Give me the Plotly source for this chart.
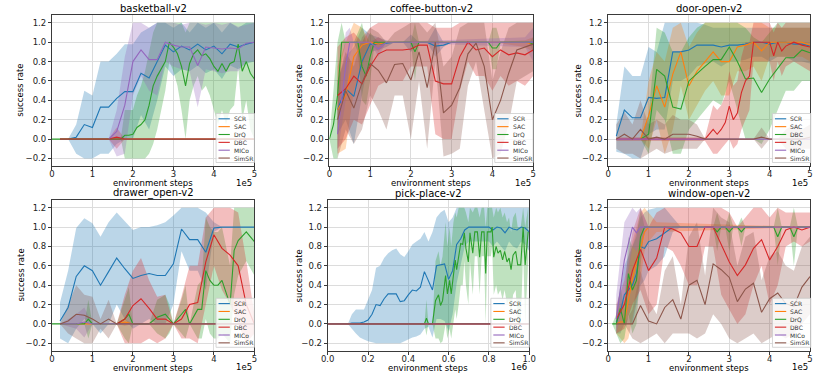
import plotly.graph_objects as go

# ---------------- data (x in units of the axis multiplier) ----------------
# basketball-v2 (x in 1e5 steps)
BB_SCR_X = [0.4,0.6,0.8,1.0,1.2,1.4,1.6,1.8,2.0,2.2,2.4,2.6,2.8,3.0,3.2,3.4,3.6,3.8,4.0,4.2,4.4,4.6,4.8,5.0]
BB_SCR_M = [0.0,0.02,0.15,0.12,0.33,0.33,0.42,0.49,0.49,0.68,0.63,0.80,0.97,0.90,0.96,0.92,0.98,0.92,0.96,0.88,0.98,0.95,0.98,1.0]
BB_SCR_LO = [0.0,-0.15,-0.2,-0.2,-0.15,-0.15,-0.05,0.0,0.0,0.25,0.1,0.4,0.75,0.65,0.72,0.7,0.76,0.68,0.72,0.62,0.76,0.72,0.78,0.8]
BB_SCR_HI = [0.0,0.15,0.5,0.45,0.8,0.8,0.88,0.98,0.98,1.1,1.15,1.2,1.2,1.15,1.2,1.1,1.2,1.15,1.2,1.1,1.2,1.15,1.2,1.2]
BB_SAC_X = [0.2,5.0]
BB_SAC_M = [0.0,0.0]
BB_DRQ_X = [0.0,0.2,1.7,1.8,1.9,2.0,2.1,2.2,2.3,2.4,2.5,2.6,2.7,2.8,2.9,3.0,3.1,3.2,3.3,3.4,3.5,3.6,3.7,3.8,3.9,4.0,4.1,4.2,4.3,4.4,4.5,4.6,4.7,4.8,4.9,5.0]
BB_DRQ_M = [0.0,0.0,0.0,0.04,0.04,0.05,0.12,0.15,0.2,0.35,0.55,0.65,0.72,0.8,1.0,0.95,0.88,0.75,0.55,0.78,0.88,0.92,0.86,0.88,0.83,0.75,0.7,0.78,0.7,0.78,0.8,0.98,0.7,0.8,0.68,0.62]
BB_DRQ_LO = [0.0,0.0,0.0,-0.2,-0.2,-0.2,-0.2,-0.2,-0.2,-0.15,-0.05,0.1,0.3,0.5,0.8,0.7,0.55,0.3,0.0,0.4,0.55,0.65,0.5,0.55,0.45,0.3,0.15,0.3,0.15,0.3,0.35,0.75,0.2,0.4,0.1,0.0]
BB_DRQ_HI = [0.0,0.0,0.0,0.3,0.3,0.3,0.45,0.55,0.7,0.9,1.1,1.2,1.2,1.2,1.2,1.2,1.2,1.2,1.1,1.2,1.2,1.2,1.2,1.2,1.2,1.2,1.2,1.2,1.2,1.2,1.2,1.2,1.2,1.2,1.2,1.2]
BB_DBC_X = [0.2,1.4,1.6,1.8,5.0]
BB_DBC_M = [0.0,0.0,0.02,0.0,0.0]
BB_DBC_LO = [0.0,0.0,-0.1,0.0,0.0]
BB_DBC_HI = [0.0,0.0,0.12,0.0,0.0]
BB_MICO_X = [1.4,1.6,1.8,2.0,2.2,2.4,2.6,2.8,3.0,3.2,3.4,3.6,3.8,4.0,4.2,4.4,4.6,4.8,5.0]
BB_MICO_M = [0.0,0.08,0.35,0.8,0.92,0.82,0.82,1.0,0.97,0.95,0.95,0.76,0.95,0.94,0.93,0.94,0.93,0.99,1.0]
BB_MICO_LO = [0.0,-0.18,-0.15,0.45,0.65,0.5,0.45,0.8,0.75,0.72,0.7,0.33,0.72,0.7,0.68,0.7,0.7,0.8,0.8]
BB_MICO_HI = [0.0,0.3,0.85,1.2,1.2,1.15,1.2,1.2,1.2,1.18,1.2,1.2,1.18,1.2,1.18,1.2,1.16,1.18,1.2]
BB_SIMSR_X = [0.2,5.0]
BB_SIMSR_M = [0.0,0.0]

# coffee-button-v2
CB_SCR_X = [0.2,0.4,0.6,0.8,1.0,1.2,1.4,1.6,1.8,2.0,2.2,2.4,2.6,2.8,3.0,5.0]
CB_SCR_M = [0.3,0.52,0.44,0.8,0.98,0.98,0.99,1.0,1.0,1.0,1.0,1.0,0.96,0.97,1.0,1.0]
CB_SCR_LO = [0.05,0.2,-0.05,0.45,0.9,0.92,0.95,1.0,1.0,0.9,1.0,1.0,0.85,0.95,1.0,1.0]
CB_SCR_HI = [0.6,0.85,0.95,1.15,1.08,1.05,1.02,1.0,1.0,1.08,1.0,1.0,1.15,1.0,1.0,1.0]
CB_SAC_X = [0.2,0.4,0.6,0.8,1.0,1.2,1.4,1.6,4.0,4.8,5.0]
CB_SAC_M = [0.3,0.45,0.85,0.97,1.0,0.98,1.0,1.0,1.0,1.0,0.98]
CB_SAC_LO = [-0.15,-0.1,0.5,0.75,1.0,0.9,1.0,1.0,1.0,0.95,0.9]
CB_SAC_HI = [0.75,1.0,1.2,1.15,1.0,1.05,1.0,1.0,1.0,1.02,1.05]
CB_DRQ_X = [0.0,0.1,0.2,0.3,0.4,0.6,0.7,0.8,0.9,1.0,1.1,1.2,2.0,2.1,2.2,3.9,4.0,4.1,4.2,4.9,5.0]
CB_DRQ_M = [0.0,0.15,0.45,1.0,1.0,1.0,1.0,0.75,0.65,0.85,1.0,1.0,1.0,0.9,1.0,1.0,0.94,0.94,1.0,1.0,0.98]
CB_DRQ_LO = [0.0,-0.2,-0.2,0.8,1.0,1.0,0.9,0.4,0.35,0.6,0.95,1.0,1.0,0.6,1.0,1.0,0.72,0.72,1.0,1.0,0.9]
CB_DRQ_HI = [0.0,0.5,1.0,1.2,1.0,1.0,1.1,1.2,1.0,1.1,1.05,1.0,1.0,1.2,1.0,1.0,1.15,1.15,1.0,1.0,1.05]
CB_DBC_X = [0.2,0.4,0.6,0.8,1.0,1.2,1.4,1.6,1.8,2.0,2.2,2.4,2.6,2.8,3.0,3.2,3.4,3.6,3.8,4.0,4.2,4.4,4.6,4.8,5.0]
CB_DBC_M = [0.45,0.52,0.65,0.57,0.75,0.88,0.92,0.92,0.92,0.93,0.97,0.97,0.6,0.57,0.57,0.85,1.0,0.92,0.94,0.85,0.92,0.87,0.89,0.87,0.92]
CB_DBC_LO = [-0.1,0.0,0.2,0.15,0.35,0.55,0.6,0.6,0.6,0.75,0.75,0.75,0.05,0.0,0.0,0.5,0.8,0.65,0.65,0.5,0.65,0.55,0.6,0.55,0.65]
CB_DBC_HI = [0.95,1.05,1.1,1.0,1.15,1.2,1.2,1.2,1.2,1.2,1.2,1.2,1.15,1.15,1.15,1.2,1.2,1.2,1.2,1.2,1.2,1.2,1.2,1.2,1.2]
CB_MICO_X = [0.2,0.4,0.5,0.6,1.0,1.2,1.4,4.8,5.0]
CB_MICO_M = [0.05,0.75,1.0,1.0,1.0,0.93,1.0,1.0,1.0]
CB_MICO_LO = [-0.15,0.4,0.85,1.0,1.0,0.85,1.0,0.95,0.8]
CB_MICO_HI = [0.3,1.1,1.15,1.0,1.0,1.05,1.0,1.05,1.15]
CB_SIMSR_X = [0.2,0.4,0.6,0.8,1.0,1.2,1.4,1.6,1.8,2.0,2.2,2.4,2.6,2.8,3.0,3.2,3.4,3.6,3.8,4.0,4.2,4.4,4.6,4.8,5.0]
CB_SIMSR_M = [0.2,0.5,0.32,0.58,0.78,0.71,0.58,0.77,0.78,0.61,0.9,0.53,1.0,0.27,0.35,0.53,0.88,0.99,0.75,0.2,0.4,0.68,0.92,0.95,0.98]
CB_SIMSR_LO = [-0.2,0.1,-0.05,0.1,0.45,0.3,0.1,0.45,0.45,0.0,0.6,-0.1,0.8,-0.18,-0.15,-0.1,0.55,0.8,0.3,-0.2,-0.15,0.15,0.6,0.65,0.7]
CB_SIMSR_HI = [0.6,0.9,0.75,1.05,1.15,1.1,1.0,1.1,1.15,1.2,1.2,1.1,1.2,0.75,0.85,1.15,1.2,1.2,1.2,0.6,0.9,1.15,1.2,1.2,1.2]

# door-open-v2
DO_SCR_X = [0.2,0.4,0.6,0.8,1.0,1.2,1.4,1.6,1.8,2.0,2.2,2.4,2.6,2.8,3.0,3.2,3.4,3.6,3.8,4.0,4.2,4.4,4.6,4.8,5.0]
DO_SCR_M = [0.03,0.3,0.22,0.22,0.43,0.42,0.43,0.9,0.9,0.92,0.97,0.97,0.97,0.95,0.97,0.97,0.98,1.0,1.0,0.98,1.0,1.0,0.98,0.98,0.96]
DO_SCR_LO = [-0.13,-0.15,-0.2,-0.2,0.05,0.1,0.1,0.6,0.6,0.65,0.75,0.78,0.8,0.75,0.8,0.8,0.82,0.85,0.85,0.8,0.85,0.85,0.8,0.8,0.78]
DO_SCR_HI = [0.15,0.75,0.65,0.65,0.95,0.9,1.2,1.2,1.2,1.2,1.2,1.18,1.15,1.15,1.15,1.15,1.15,1.15,1.15,1.15,1.15,1.15,1.15,1.15,1.15]
DO_SAC_X = [0.8,1.0,1.2,1.4,1.6,1.8,2.0,2.2,2.4,2.6,2.8,3.0,3.2,3.4,3.6,3.8,4.0,4.2,4.4,4.6,4.8,5.0]
DO_SAC_M = [0.0,0.24,0.55,0.33,0.67,0.9,0.55,0.7,0.8,0.9,0.8,0.8,0.95,0.97,1.0,0.91,1.0,1.0,1.0,1.0,1.0,0.97]
DO_SAC_LO = [0.0,-0.1,0.2,-0.15,0.1,0.55,0.2,0.35,0.5,0.6,0.45,0.45,0.7,0.7,0.75,0.6,0.85,0.85,0.85,0.85,0.85,0.8]
DO_SAC_HI = [0.0,0.6,0.9,0.8,1.15,1.2,0.95,1.1,1.2,1.2,1.2,1.2,1.2,1.2,1.2,1.2,1.15,1.15,1.15,1.15,1.15,1.15]
DO_DBC_X = [0.8,1.0,1.2,1.4,1.6,1.8,2.0,2.2,2.4,2.6,2.8,3.0,3.2,3.4,3.6,3.8,4.0,4.2,4.4,4.6,4.8,5.0]
DO_DBC_M = [0.0,0.05,0.72,0.65,0.33,0.31,0.6,0.68,0.75,0.82,0.82,0.95,0.8,0.62,0.63,0.48,0.62,0.73,0.84,0.84,0.92,0.89]
DO_DBC_LO = [0.0,-0.15,0.3,0.2,-0.15,-0.15,0.1,0.2,0.3,0.4,0.35,0.6,0.3,0.0,0.0,-0.05,0.1,0.3,0.5,0.5,0.6,0.6]
DO_DBC_HI = [0.0,0.25,1.15,1.1,0.9,0.9,1.05,1.15,1.2,1.2,1.2,1.2,1.2,1.15,1.05,1.0,1.1,1.2,1.2,1.2,1.2,1.2]
DO_DRQ_X = [0.2,0.4,0.6,0.8,1.0,1.2,1.4,1.6,1.8,2.0,2.2,2.4,2.6,2.7,2.8,2.9,3.0,3.1,3.2,3.3,3.4,3.5,3.6,3.8,4.0,4.1,4.2,4.3,4.4,4.6,4.8,5.0]
DO_DRQ_M = [0.0,0.0,0.0,0.0,0.0,0.0,0.0,0.0,0.0,0.0,0.0,0.0,0.1,0.05,0.1,0.17,0.34,0.2,0.27,0.48,0.6,0.65,1.0,1.0,1.0,0.86,1.0,0.91,0.96,1.0,0.97,0.95]
DO_DRQ_LO = [-0.02,-0.02,-0.02,-0.02,-0.02,-0.02,-0.02,-0.02,-0.02,-0.02,-0.02,-0.02,-0.15,-0.15,-0.1,-0.05,0.0,-0.1,-0.05,0.1,0.2,0.3,0.8,0.8,0.8,0.6,0.8,0.65,0.75,0.8,0.75,0.7]
DO_DRQ_HI = [0.02,0.02,0.02,0.02,0.02,0.02,0.02,0.02,0.02,0.02,0.02,0.02,0.35,0.3,0.35,0.45,0.7,0.55,0.6,0.85,1.0,1.0,1.2,1.2,1.2,1.1,1.2,1.15,1.2,1.2,1.2,1.2]
DO_MICO_X = [0.2,5.0]
DO_MICO_M = [0.0,0.0]
DO_SIMSR_X = [0.2,0.4,0.6,0.8,1.0,1.2,1.4,1.6,1.8,2.0,2.2,2.4,2.6,2.8,3.0,3.2,3.4,3.6,3.8,4.0,4.2,4.4,4.6,4.8,5.0]
DO_SIMSR_M = [0.0,0.05,0.0,0.1,0.0,0.02,0.0,0.05,0.05,0.05,0.03,0.0,0.0,0.0,0.0,0.0,0.0,0.0,0.02,0.0,0.0,0.0,0.0,0.0,0.02]
DO_SIMSR_LO = [-0.1,-0.15,-0.15,-0.2,-0.15,-0.1,-0.15,-0.12,-0.1,-0.1,-0.1,0.0,0.0,0.0,0.0,0.0,0.0,0.0,-0.1,0.0,0.0,-0.1,-0.15,-0.1,-0.1]
DO_SIMSR_HI = [0.15,0.28,0.15,0.4,0.15,0.2,0.15,0.25,0.2,0.2,0.15,0.0,0.0,0.0,0.0,0.0,0.0,0.0,0.12,0.0,0.0,0.1,0.15,0.1,0.15]

# drawer_open-v2
DR_SCR_X = [0.2,0.4,0.6,0.8,1.0,1.2,1.4,1.6,1.8,2.0,2.2,2.4,2.6,2.8,3.0,3.2,3.4,3.6,3.8,4.0,4.2,4.4,4.6,4.8,5.0]
DR_SCR_M = [0.03,0.17,0.49,0.6,0.55,0.4,0.54,0.68,0.57,0.47,0.5,0.52,0.5,0.5,0.62,0.98,0.87,0.87,0.74,0.99,1.0,1.0,1.0,1.0,1.0]
DR_SCR_LO = [-0.15,-0.2,-0.05,0.05,0.0,-0.1,0.0,0.2,0.05,-0.05,0.0,0.05,0.0,0.0,0.2,0.75,0.55,0.55,0.35,0.95,1.0,1.0,1.0,1.0,1.0]
DR_SCR_HI = [0.22,0.55,0.99,1.09,1.04,0.9,1.05,1.15,1.06,0.97,1.0,1.0,1.02,1.05,1.12,1.2,1.2,1.2,1.15,1.05,1.0,1.0,1.0,1.0,1.0]
DR_SAC_X = [0.2,1.6,1.8,2.0,5.0]
DR_SAC_M = [0.0,0.0,0.02,0.0,0.0]
DR_SAC_LO = [0.0,0.0,-0.02,0.0,0.0]
DR_SAC_HI = [0.0,0.0,0.05,0.0,0.0]
DR_DRQ_X = [0.0,0.2,0.8,0.9,1.0,1.6,1.8,1.9,2.0,2.4,2.6,2.8,2.9,3.0,3.2,3.3,3.4,3.6,3.7,3.8,3.9,4.0,4.1,4.2,4.4,4.5,4.6,4.8,5.0]
DR_DRQ_M = [0.0,0.0,0.0,0.05,0.0,0.0,0.05,0.1,0.0,0.0,0.07,0.1,0.05,0.0,0.1,0.15,0.0,0.15,0.15,0.55,0.45,0.4,0.4,0.45,0.2,0.76,0.86,0.95,0.85]
DR_DRQ_LO = [0.0,0.0,0.0,-0.15,0.0,0.0,-0.15,-0.2,0.0,0.0,-0.1,-0.15,-0.1,0.0,-0.1,-0.15,0.0,-0.15,-0.15,0.05,-0.1,-0.15,-0.15,-0.1,-0.2,0.3,0.5,0.65,0.5]
DR_DRQ_HI = [0.0,0.0,0.0,0.25,0.0,0.0,0.25,0.38,0.0,0.0,0.25,0.3,0.2,0.0,0.25,0.4,0.0,0.4,0.45,1.1,1.0,0.95,0.95,1.0,0.6,1.2,1.2,1.2,1.2]
DR_DBC_X = [1.6,1.8,2.0,2.2,2.4,2.6,2.8,3.0,3.2,3.4,3.6,3.8,4.0,4.2,4.4,4.6,4.8,5.0]
DR_DBC_M = [0.0,0.05,0.19,0.26,0.16,0.05,0.05,0.0,0.05,0.2,0.22,0.64,0.92,0.78,0.71,0.6,0.2,0.0]
DR_DBC_LO = [0.0,-0.2,-0.2,-0.2,-0.15,-0.2,-0.15,0.0,-0.15,-0.15,-0.2,0.2,0.6,0.35,0.2,0.0,-0.2,-0.1]
DR_DBC_HI = [0.0,0.3,0.55,0.68,0.45,0.28,0.3,0.0,0.28,0.6,0.6,1.1,1.2,1.2,1.2,1.15,0.65,0.1]
DR_MICO_X = [0.2,0.6,0.8,1.0,5.0]
DR_MICO_M = [0.0,0.0,0.02,0.0,0.0]
DR_MICO_LO = [0.0,-0.05,-0.14,0.0,0.0]
DR_MICO_HI = [0.0,0.1,0.17,0.0,0.0]
DR_SIMSR_X = [0.2,0.4,0.6,0.8,1.0,1.2,1.4,1.6,5.0]
DR_SIMSR_M = [0.0,0.03,0.1,0.09,0.05,0.0,0.05,0.0,0.0]
DR_SIMSR_LO = [0.0,-0.1,-0.15,-0.2,-0.2,-0.05,-0.15,0.0,0.0]
DR_SIMSR_HI = [0.0,0.2,0.4,0.3,0.28,0.05,0.25,0.0,0.0]

# pick-place-v2 (x in 1e6 steps)
PP_SCR_X = [0.10,0.12,0.14,0.16,0.18,0.20,0.22,0.24,0.26,0.28,0.30,0.32,0.34,0.36,0.38,0.40,0.42,0.44,0.46,0.48,0.50,0.52,0.54,0.56,0.58,0.60,0.62,0.64,0.66,0.68,0.70,0.72,0.74,0.76,0.78,0.80,0.82,0.84,0.86,0.88,0.90,0.92,0.94,0.96,0.98,1.00]
PP_SCR_M = [0.0,0.01,0.01,0.01,0.02,0.04,0.1,0.2,0.19,0.26,0.31,0.31,0.31,0.23,0.24,0.3,0.35,0.34,0.38,0.54,0.44,0.35,0.6,0.61,0.62,0.46,0.55,0.82,0.88,0.97,1.0,1.0,1.0,1.0,1.0,1.0,0.97,1.0,0.99,0.94,1.0,0.98,0.97,1.0,0.99,0.95]
PP_SCR_LO = [0.0,-0.05,-0.1,-0.14,-0.16,-0.18,-0.19,-0.2,-0.2,-0.2,-0.2,-0.2,-0.2,-0.2,-0.18,-0.16,-0.14,-0.13,-0.11,-0.05,-0.03,-0.14,0.05,0.05,0.03,-0.07,0.1,0.42,0.6,0.8,0.85,0.85,0.85,0.85,0.85,0.85,0.8,0.85,0.8,0.75,0.85,0.8,0.78,0.85,0.82,0.75]
PP_SCR_HI = [0.0,0.1,0.15,0.15,0.15,0.25,0.35,0.58,0.6,0.68,0.73,0.76,0.78,0.72,0.69,0.75,0.82,0.85,0.88,0.95,0.85,0.95,1.1,1.15,1.18,1.05,1.1,1.2,1.2,1.2,1.2,1.2,1.2,1.2,1.2,1.2,1.2,1.2,1.2,1.2,1.2,1.2,1.2,1.2,1.2,1.2]
PP_DRQ_X = [0.0,0.48,0.49,0.5,0.52,0.535,0.55,0.56,0.57,0.578,0.585,0.594,0.605,0.613,0.624,0.633,0.64,0.65,0.66,0.67,0.678,0.686,0.698,0.706,0.72,0.73,0.743,0.754,0.764,0.776,0.784,0.792,0.81,0.816,0.824,0.836,0.845,0.857,0.868,0.878,0.89,0.9,0.91,0.92,0.933,0.943,0.958,0.97,0.98,0.995]
PP_DRQ_M = [0.0,0.0,0.06,0.0,0.0,0.24,0.3,0.19,0.24,0.38,0.5,0.31,0.45,0.31,0.5,0.66,0.56,0.71,0.83,0.82,0.94,0.78,0.64,0.94,0.73,0.95,0.95,0.69,0.95,0.95,0.52,0.95,0.95,1.0,0.69,0.8,0.73,0.76,0.66,0.75,0.64,0.68,0.56,0.71,0.75,0.61,0.61,1.0,0.61,0.95]
PP_DRQ_LO = [0.0,0.0,-0.12,0.0,0.0,-0.15,-0.15,-0.2,-0.18,-0.1,0.0,-0.15,-0.05,-0.15,0.0,0.15,0.05,0.2,0.4,0.4,0.65,0.4,0.2,0.65,0.3,0.7,0.7,0.3,0.7,0.7,0.0,0.7,0.7,0.8,0.3,0.4,0.3,0.35,0.25,0.35,0.2,0.25,0.1,0.3,0.35,0.0,0.0,0.75,0.0,0.65]
PP_DRQ_HI = [0.0,0.0,0.25,0.0,0.0,0.65,0.75,0.6,0.7,0.9,1.05,0.8,1.0,0.8,1.05,1.15,1.1,1.2,1.2,1.2,1.2,1.15,1.05,1.2,1.15,1.2,1.2,1.1,1.2,1.2,1.0,1.2,1.2,1.2,1.1,1.2,1.15,1.2,1.1,1.15,1.05,1.1,0.95,1.1,1.15,1.0,1.0,1.2,1.0,1.2]
PP_ZERO_X = [0.0,1.0]
PP_ZERO_M = [0.0,0.0]

# window-open-v2
WO_SCR_X = [0.2,0.3,0.4,0.5,0.6,0.7,0.8,0.9,1.0,1.2,1.4,1.6,1.8,5.0]
WO_SCR_M = [0.02,0.12,0.3,0.35,0.4,0.52,0.8,0.78,0.85,0.88,0.94,1.0,1.0,1.0]
WO_SCR_LO = [-0.1,-0.1,0.0,0.0,0.0,0.2,0.4,0.45,0.55,0.6,0.7,0.95,1.0,1.0]
WO_SCR_HI = [0.15,0.35,0.6,0.7,0.8,0.95,1.1,1.15,1.18,1.2,1.2,1.1,1.0,1.0]
WO_SAC_X = [0.2,0.3,0.4,0.5,0.6,0.7,0.8,0.9,1.0,1.2,5.0]
WO_SAC_M = [0.0,0.02,0.02,0.24,0.47,0.64,0.78,0.95,1.0,1.0,1.0]
WO_SAC_LO = [-0.1,-0.15,-0.2,-0.15,0.05,0.25,0.45,0.75,0.85,0.95,1.0]
WO_SAC_HI = [0.1,0.2,0.25,0.6,0.85,1.0,1.15,1.2,1.15,1.05,1.0]
WO_DRQ_X = [0.1,0.2,0.3,0.4,0.5,0.6,0.7,0.8,0.9,1.0,2.6,2.7,2.8,2.9,3.0,3.1,3.2,3.3,3.4,4.1,4.2,4.3,4.5,4.6,4.7,5.0]
WO_DRQ_M = [0.0,0.0,0.16,0.0,0.52,0.35,0.45,0.9,1.0,1.0,1.0,0.95,1.0,1.0,0.95,1.0,1.0,0.95,1.0,1.0,0.9,1.0,1.0,0.9,1.0,1.0]
WO_DRQ_LO = [0.0,-0.1,-0.2,-0.15,0.1,-0.1,0.0,0.6,1.0,1.0,1.0,0.75,1.0,1.0,0.75,1.0,1.0,0.8,1.0,1.0,0.6,1.0,1.0,0.6,1.0,1.0]
WO_DRQ_HI = [0.0,0.1,0.4,0.15,0.9,0.8,0.9,1.2,1.0,1.0,1.0,1.15,1.0,1.0,1.15,1.0,1.0,1.1,1.0,1.0,1.2,1.0,1.0,1.2,1.0,1.0]
WO_DBC_X = [0.2,0.4,0.6,0.8,1.0,1.2,1.4,1.6,1.8,2.0,2.2,2.4,2.6,2.8,3.0,3.2,3.4,3.6,3.8,4.0,4.2,4.4,4.6,4.8,5.0]
WO_DBC_M = [0.05,0.2,0.55,0.77,0.55,0.68,1.0,0.98,0.94,0.8,0.8,1.0,1.0,0.82,0.64,0.5,0.61,0.78,0.87,0.66,0.8,0.97,1.0,0.97,1.0]
WO_DBC_LO = [-0.1,-0.05,0.2,0.35,0.1,0.2,0.8,0.75,0.6,0.4,0.4,0.8,0.8,0.3,0.15,0.0,0.1,0.4,0.6,0.2,0.4,0.8,0.85,0.8,0.85]
WO_DBC_HI = [0.2,0.45,0.95,1.2,1.0,1.15,1.2,1.2,1.2,1.2,1.2,1.2,1.2,1.2,1.15,1.0,1.1,1.2,1.2,1.1,1.2,1.15,1.15,1.15,1.15]
WO_MICO_X = [0.2,0.4,0.6,0.7,0.8,1.0,5.0]
WO_MICO_M = [0.05,0.66,1.0,0.94,1.0,1.0,1.0]
WO_MICO_LO = [-0.1,0.25,0.8,0.75,0.85,1.0,1.0]
WO_MICO_HI = [0.3,1.05,1.2,1.15,1.2,1.0,1.0]
WO_SIMSR_X = [0.2,0.4,0.6,0.8,1.0,1.2,1.4,1.6,1.8,2.0,2.2,2.4,2.6,2.8,3.0,3.2,3.4,3.6,3.8,4.0,4.2,4.4,4.6,4.8,5.0]
WO_SIMSR_M = [0.0,0.0,0.0,0.19,0.03,0.0,0.17,0.25,0.05,0.4,0.45,0.2,0.62,0.56,0.48,0.23,0.36,0.42,0.12,0.26,0.32,0.21,0.18,0.38,0.49]
WO_SIMSR_LO = [0.0,0.0,-0.15,-0.2,-0.15,-0.1,-0.2,-0.1,-0.1,-0.1,-0.15,-0.1,0.1,0.0,-0.15,-0.2,-0.15,-0.1,-0.2,-0.15,-0.1,-0.15,-0.1,0.0,0.1]
WO_SIMSR_HI = [0.0,0.0,0.15,0.55,0.25,0.1,0.55,0.7,0.2,0.9,1.05,0.5,1.2,1.1,1.05,0.6,0.9,0.95,0.45,0.7,0.75,0.6,0.55,0.8,0.9]

LEGEND_STD = ["SCR", "SAC", "DrQ", "DBC", "MICo", "SimSR"]
LEGEND_DOOR = ["SCR", "SAC", "DBC", "DrQ", "MICo", "SimSR"]
Y_TICKS = [-0.2, 0.0, 0.2, 0.4, 0.6, 0.8, 1.0, 1.2]
X_TICKS_5 = [0, 1, 2, 3, 4, 5]
X_TICKS_PP = [0.0, 0.2, 0.4, 0.6, 0.8, 1.0]

# ---------------- styling ----------------
BLUE, ORANGE, GREEN, RED, PURPLE, BROWN = "#1f77b4", "#ff7f0e", "#2ca02c", "#d62728", "#9467bd", "#8c564b"
COLORS = [BLUE, ORANGE, GREEN, RED, PURPLE, BROWN]
FONT = "DejaVu Sans"
W, H = 817, 379


def px(x):
    return x / W


def py(y):
    return 1 - y / H


def rgba(hexc, a):
    h = hexc.lstrip("#")
    return "rgba(%d,%d,%d,%s)" % (int(h[0:2], 16), int(h[2:4], 16), int(h[4:6], 16), a)


TOP = (15.3, 166.0)
BOT = (200.2, 350.8)

panels = [
    dict(title="basketball-v2", xpx=(45.7, 251.7), ypx=TOP, unit="1e5", xt=X_TICKS_5, xr=[0, 5], ylab=13.3,
         legend=LEGEND_STD,
         series=[(BB_SCR_X, BB_SCR_M, BB_SCR_LO, BB_SCR_HI), (BB_SAC_X, BB_SAC_M, None, None),
                 (BB_DRQ_X, BB_DRQ_M, BB_DRQ_LO, BB_DRQ_HI), (BB_DBC_X, BB_DBC_M, BB_DBC_LO, BB_DBC_HI),
                 (BB_MICO_X, BB_MICO_M, BB_MICO_LO, BB_MICO_HI), (BB_SIMSR_X, BB_SIMSR_M, None, None)]),
    dict(title="coffee-button-v2", xpx=(328.0, 535.3), ypx=TOP, unit="1e5", xt=X_TICKS_5, xr=[0, 5], ylab=297,
         legend=LEGEND_STD,
         series=[(CB_SCR_X, CB_SCR_M, CB_SCR_LO, CB_SCR_HI), (CB_SAC_X, CB_SAC_M, CB_SAC_LO, CB_SAC_HI),
                 (CB_DRQ_X, CB_DRQ_M, CB_DRQ_LO, CB_DRQ_HI), (CB_DBC_X, CB_DBC_M, CB_DBC_LO, CB_DBC_HI),
                 (CB_MICO_X, CB_MICO_M, CB_MICO_LO, CB_MICO_HI), (CB_SIMSR_X, CB_SIMSR_M, CB_SIMSR_LO, CB_SIMSR_HI)]),
    dict(title="door-open-v2", xpx=(611.7, 817.0), ypx=TOP, unit="1e5", xt=X_TICKS_5, xr=[0, 5], ylab=580.7,
         legend=LEGEND_DOOR,
         series=[(DO_SCR_X, DO_SCR_M, DO_SCR_LO, DO_SCR_HI), (DO_SAC_X, DO_SAC_M, DO_SAC_LO, DO_SAC_HI),
                 (DO_DBC_X, DO_DBC_M, DO_DBC_LO, DO_DBC_HI), (DO_DRQ_X, DO_DRQ_M, DO_DRQ_LO, DO_DRQ_HI),
                 (DO_MICO_X, DO_MICO_M, None, None), (DO_SIMSR_X, DO_SIMSR_M, DO_SIMSR_LO, DO_SIMSR_HI)]),
    dict(title="drawer_open-v2", xpx=(45.7, 251.7), ypx=BOT, unit="1e5", xt=X_TICKS_5, xr=[0, 5], ylab=13.3,
         legend=LEGEND_STD,
         series=[(DR_SCR_X, DR_SCR_M, DR_SCR_LO, DR_SCR_HI), (DR_SAC_X, DR_SAC_M, DR_SAC_LO, DR_SAC_HI),
                 (DR_DRQ_X, DR_DRQ_M, DR_DRQ_LO, DR_DRQ_HI), (DR_DBC_X, DR_DBC_M, DR_DBC_LO, DR_DBC_HI),
                 (DR_MICO_X, DR_MICO_M, DR_MICO_LO, DR_MICO_HI), (DR_SIMSR_X, DR_SIMSR_M, DR_SIMSR_LO, DR_SIMSR_HI)]),
    dict(title="pick-place-v2", xpx=(326.3, 531.3), ypx=BOT, unit="1e6", xt=X_TICKS_PP, xr=[0, 1.0], ylab=297,
         legend=LEGEND_STD,
         series=[(PP_SCR_X, PP_SCR_M, PP_SCR_LO, PP_SCR_HI), (PP_ZERO_X, PP_ZERO_M, None, None),
                 (PP_DRQ_X, PP_DRQ_M, PP_DRQ_LO, PP_DRQ_HI), (PP_ZERO_X, PP_ZERO_M, None, None),
                 (PP_ZERO_X, PP_ZERO_M, None, None), (PP_ZERO_X, PP_ZERO_M, None, None)]),
    dict(title="window-open-v2", xpx=(611.7, 817.0), ypx=BOT, unit="1e5", xt=X_TICKS_5, xr=[0, 5], ylab=580.7,
         legend=LEGEND_STD,
         series=[(WO_SCR_X, WO_SCR_M, WO_SCR_LO, WO_SCR_HI), (WO_SAC_X, WO_SAC_M, WO_SAC_LO, WO_SAC_HI),
                 (WO_DRQ_X, WO_DRQ_M, WO_DRQ_LO, WO_DRQ_HI), (WO_DBC_X, WO_DBC_M, WO_DBC_LO, WO_DBC_HI),
                 (WO_MICO_X, WO_MICO_M, WO_MICO_LO, WO_MICO_HI), (WO_SIMSR_X, WO_SIMSR_M, WO_SIMSR_LO, WO_SIMSR_HI)]),
]

fig = go.Figure()
annotations = []
shapes = []
layout_axes = {}

for i, p in enumerate(panels):
    s = "" if i == 0 else str(i + 1)
    xa, ya = "x" + s, "y" + s
    x0, x1 = p["xpx"]
    y0, y1 = p["ypx"]
    is_pp = p["unit"] == "1e6"
    layout_axes["xaxis" + s] = dict(
        domain=[px(x0), px(x1)], anchor=ya, range=p["xr"],
        tickvals=p["xt"], ticktext=[("%.1f" % v) if is_pp else str(v) for v in p["xt"]],
        showline=True, mirror=True, linecolor="#3a3a3a", linewidth=1,
        ticks="outside", ticklen=3, tickwidth=0.8, tickcolor="#3a3a3a", ticklabelstandoff=-3,
        showgrid=True, gridcolor="#dcdcdc", gridwidth=0.8, zeroline=False,
        tickfont=dict(family=FONT, size=8.5, color="#222"))
    layout_axes["yaxis" + s] = dict(
        domain=[py(y1), py(y0)], anchor=xa, range=[-0.2775, 1.2775],
        tickvals=Y_TICKS, ticktext=[("%.1f" % v).replace("-", "\u2212") for v in Y_TICKS],
        showline=True, mirror=True, linecolor="#3a3a3a", linewidth=1,
        ticks="outside", ticklen=3, tickwidth=0.8, tickcolor="#3a3a3a",
        showgrid=True, gridcolor="#dcdcdc", gridwidth=0.8, zeroline=False,
        tickfont=dict(family=FONT, size=8.5, color="#222"))

    # bands first (below all lines, like matplotlib fill_between)
    for (sx, sm, slo, shi), col in zip(p["series"], COLORS):
        if slo is None:
            continue
        fig.add_trace(go.Scatter(x=list(sx) + list(sx)[::-1], y=list(shi) + list(slo)[::-1],
                                 fill="toself", fillcolor=rgba(col, 0.3), mode="lines",
                                 line=dict(width=0, color=rgba(col, 0)), hoverinfo="skip",
                                 showlegend=False, xaxis=xa, yaxis=ya))
    for (sx, sm, slo, shi), col, name in zip(p["series"], COLORS, p["legend"]):
        fig.add_trace(go.Scatter(x=sx, y=sm, mode="lines", name=name,
                                 line=dict(color=col, width=1.1), showlegend=False,
                                 xaxis=xa, yaxis=ya))

    cx = (x0 + x1) / 2
    cy = (y0 + y1) / 2
    annotations.append(dict(text=p["title"], x=px(cx), y=py(y0 - 6.8), xref="paper", yref="paper",
                            showarrow=False, xanchor="center", yanchor="middle",
                            font=dict(family=FONT, size=10, color="#000")))
    annotations.append(dict(text="environment steps", x=px(cx), y=py(y1 + 17.2), xref="paper", yref="paper",
                            showarrow=False, xanchor="center", yanchor="middle",
                            font=dict(family=FONT, size=8.5, color="#000")))
    annotations.append(dict(text=p["unit"], x=px(x1), y=py(y1 + 16.6), xref="paper", yref="paper",
                            showarrow=False, xanchor="right", yanchor="middle",
                            font=dict(family=FONT, size=8.5, color="#000")))
    annotations.append(dict(text="success rate", x=px(p["ylab"]), y=py(cy), xref="paper", yref="paper",
                            showarrow=False, xanchor="center", yanchor="middle", textangle=-90,
                            font=dict(family=FONT, size=8.5, color="#000")))

    # legend box (lower right)
    lx1 = x1 + (0.8 if i in (2, 5) else 0.0)
    lx0 = lx1 - 39.0
    ly1 = y1 - 3.5
    ly0 = ly1 - 49.0
    shapes.append(dict(type="rect", xref="paper", yref="paper", x0=px(lx0), x1=px(lx1), y0=py(ly1), y1=py(ly0),
                       fillcolor="rgba(255,255,255,0.8)", line=dict(color="#cccccc", width=0.8), layer="above"))
    for k, (name, col) in enumerate(zip(p["legend"], COLORS)):
        ey = ly0 + 5.3 + 7.85 * k
        shapes.append(dict(type="line", xref="paper", yref="paper", x0=px(lx0 + 2.5), x1=px(lx0 + 14.0),
                           y0=py(ey), y1=py(ey), line=dict(color=col, width=1.1), layer="above"))
        annotations.append(dict(text=name, x=px(lx0 + 16.3), y=py(ey), xref="paper", yref="paper",
                                showarrow=False, xanchor="left", yanchor="middle",
                                font=dict(family=FONT, size=6, color="#333")))

fig.update_layout(
    width=W, height=H, margin=dict(l=0, r=0, t=0, b=0),
    paper_bgcolor="white", plot_bgcolor="white", showlegend=False,
    annotations=annotations, shapes=shapes, **layout_axes)

fig.write_html("out.html", config={"displayModeBar": False},
               post_script="document.body.style.margin='0px';document.body.style.padding='0px';"
                           "document.body.style.overflow='hidden';")
